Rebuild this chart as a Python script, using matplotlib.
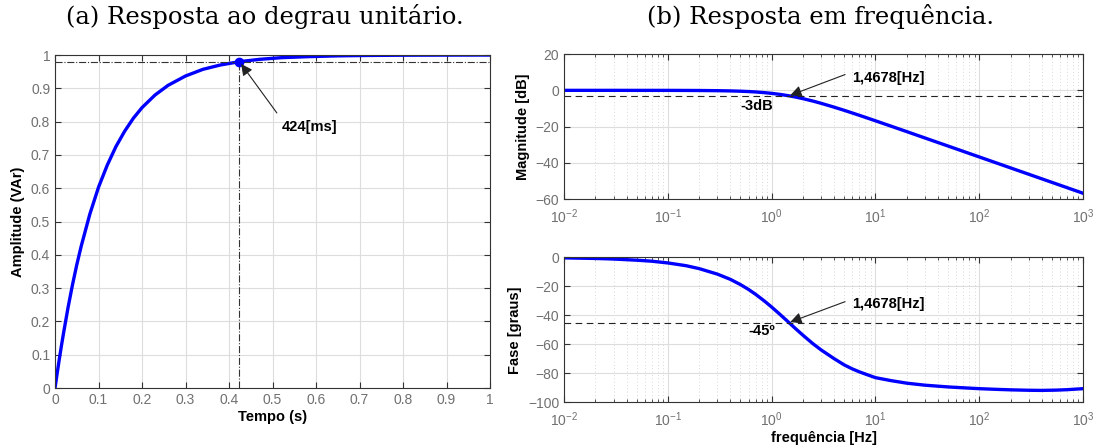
import numpy as np
import matplotlib.pyplot as plt
from matplotlib.ticker import LogLocator, NullFormatter

# Step response
t = [0, 0.005, 0.01, 0.015, 0.02, 0.03, 0.04, 0.05, 0.06, 0.08, 0.10, 0.12,
     0.14, 0.16, 0.18, 0.20, 0.23, 0.26, 0.30, 0.34, 0.38, 0.424, 0.47, 0.52,
     0.58, 0.65, 0.72, 0.80, 0.90, 1.0]
amp = [0, 0.045, 0.088, 0.129, 0.168, 0.242, 0.309, 0.370, 0.425, 0.522, 0.603,
       0.669, 0.725, 0.771, 0.810, 0.842, 0.880, 0.909, 0.937, 0.957, 0.970,
       0.980, 0.987, 0.992, 0.995, 0.9975, 0.9987, 0.9994, 0.9997, 0.9999]

# Frequency response
freq = [0.01, 0.02, 0.03, 0.05, 0.07, 0.1, 0.15, 0.2, 0.3, 0.4, 0.5, 0.6, 0.7,
        0.85, 1.0, 1.2, 1.4678, 1.7, 2.0, 2.5, 3.0, 4.0, 5.0, 6.0, 7.0, 8.5, 10,
        14, 20, 30, 50, 70, 100, 150, 200, 300, 400, 550, 700, 1000]
mag_db = [0, 0, 0, -0.01, -0.01, -0.02, -0.05, -0.08, -0.18, -0.31, -0.47,
          -0.67, -0.88, -1.26, -1.65, -2.22, -3.0, -3.69, -4.56, -5.91, -7.14,
          -9.26, -11.0, -12.48, -13.75, -15.38, -16.76, -19.64, -22.71, -26.23,
          -30.65, -33.57, -36.67, -40.19, -42.69, -46.21, -48.71, -51.47,
          -53.57, -56.67]
phase_deg = [-0.4, -0.8, -1.2, -2.0, -2.7, -3.9, -5.8, -7.8, -11.6, -15.2,
             -18.8, -22.2, -25.5, -30.1, -34.3, -39.3, -45.0, -49.2, -53.7,
             -59.6, -63.9, -69.9, -74.2, -77.0, -79.0, -81.2, -83.0, -85.0,
             -86.8, -88.2, -89.4, -90.0, -90.6, -91.1, -91.4, -91.7, -91.8,
             -91.6, -91.3, -90.6]

t_mark = 0.424
amp_mark = 0.98
f_cut = 1.4678
mag_cut = -3
phase_cut = -45

tick_col = '#707070'
lab_font = dict(family='Liberation Sans', weight='bold', size=10.5)

fig = plt.figure(figsize=(10.96, 4.48), dpi=100)

# (a) step response
ax1 = fig.add_axes([0.0502, 0.1339, 0.3969, 0.7433])
ax1.plot(t, amp, color='#0000ff', lw=2.4)
ax1.axhline(amp_mark, color='#333333', lw=0.8, ls='-.')
ax1.plot([t_mark, t_mark], [0, amp_mark], color='#333333', lw=0.8, ls='-.')
ax1.plot(t_mark, amp_mark, 'o', color='#0000ff', ms=6)
ax1.annotate('', xy=(t_mark, amp_mark), xytext=(0.510, 0.826),
             arrowprops=dict(arrowstyle='-|>', color='#222222', lw=0.8,
                             mutation_scale=17, shrinkA=0, shrinkB=2))
ax1.text(0.522, 0.784, '424[ms]', ha='left', va='center', **lab_font)
ax1.set_xlim(0, 1)
ax1.set_ylim(0, 1)
ax1.set_xticks(np.arange(0, 1.01, 0.1))
ax1.set_yticks(np.arange(0, 1.01, 0.1))
ax1.set_xticklabels(['0', '0.1', '0.2', '0.3', '0.4', '0.5', '0.6', '0.7', '0.8', '0.9', '1'])
ax1.set_yticklabels(['0', '0.1', '0.2', '0.3', '0.4', '0.5', '0.6', '0.7', '0.8', '0.9', '1'])
ax1.set_xlabel('Tempo (s)', labelpad=2, **lab_font)
ax1.set_ylabel('Amplitude (VAr)', labelpad=4, **lab_font)
ax1.grid(True, color='#dddddd', lw=0.8)

# (b) frequency response
ax2 = fig.add_axes([0.5146, 0.5551, 0.4736, 0.3243])
ax3 = fig.add_axes([0.5146, 0.1020, 0.4736, 0.3237])

ax2.semilogx(freq, mag_db, color='#0000ff', lw=2.4)
ax2.plot([0.01, 1000], [mag_cut, mag_cut], color='#222222', lw=0.8, ls=(0, (6, 4)))
ax2.annotate('', xy=(f_cut, mag_cut), xytext=(5.1, 8.7),
             arrowprops=dict(arrowstyle='-|>', color='#222222', lw=0.8,
                             mutation_scale=17, shrinkA=0, shrinkB=1))
ax2.text(5.9, 6.9, '1,4678[Hz]', ha='left', va='center', **lab_font)
ax2.text(0.72, -8.4, '-3dB', ha='center', va='center', **lab_font)
ax2.set_ylim(-60, 20)
ax2.set_yticks([-60, -40, -20, 0, 20])
ax2.set_ylabel('Magnitude [dB]', labelpad=4, **lab_font)

ax3.semilogx(freq, phase_deg, color='#0000ff', lw=2.4)
ax3.plot([0.01, 1000], [phase_cut, phase_cut], color='#222222', lw=0.8, ls=(0, (6, 4)))
ax3.annotate('', xy=(f_cut, phase_cut), xytext=(5.1, -30.6),
             arrowprops=dict(arrowstyle='-|>', color='#222222', lw=0.8,
                             mutation_scale=17, shrinkA=0, shrinkB=1))
ax3.text(5.9, -32.4, '1,4678[Hz]', ha='left', va='center', **lab_font)
ax3.text(0.80, -50.5, '-45º', ha='center', va='center', **lab_font)
ax3.set_ylim(-100, 0)
ax3.set_yticks([-100, -80, -60, -40, -20, 0])
ax3.set_ylabel('Fase [graus]', labelpad=4, **lab_font)
ax3.set_xlabel('frequência [Hz]', labelpad=1, **lab_font)

for ax in (ax2, ax3):
    ax.set_xlim(0.01, 1000)
    ax.xaxis.set_major_locator(LogLocator(base=10, numticks=10))
    ax.xaxis.set_minor_locator(LogLocator(base=10, subs=np.arange(2, 10), numticks=20))
    ax.xaxis.set_minor_formatter(NullFormatter())
    ax.grid(True, which='major', color='#dddddd', lw=0.8)
    ax.grid(True, which='minor', axis='x', color='#cccccc', lw=0.6, ls=(0, (1, 3)))

for ax in (ax1, ax2, ax3):
    ax.set_axisbelow(True)
    ax.tick_params(which='both', direction='in', top=True, right=True,
                   labelsize=10, labelcolor=tick_col, color='#333333')
    ax.tick_params(which='major', length=4)
    ax.tick_params(which='minor', length=2.5)
    for lbl in ax.get_xticklabels() + ax.get_yticklabels():
        lbl.set_family('Liberation Sans')
    for sp in ax.spines.values():
        sp.set_color('#333333')
        sp.set_linewidth(0.8)

for ax in (ax2, ax3):
    ax.tick_params(axis='x', which='major', pad=6)

fig.text(0.2418, 0.964, '(a) Resposta ao degrau unitário.', ha='center', va='center',
         family='DejaVu Serif', size=17.5)
fig.text(0.749, 0.964, '(b) Resposta em frequência.', ha='center', va='center',
         family='DejaVu Serif', size=17.5)

fig.savefig('out.png', dpi=100)
